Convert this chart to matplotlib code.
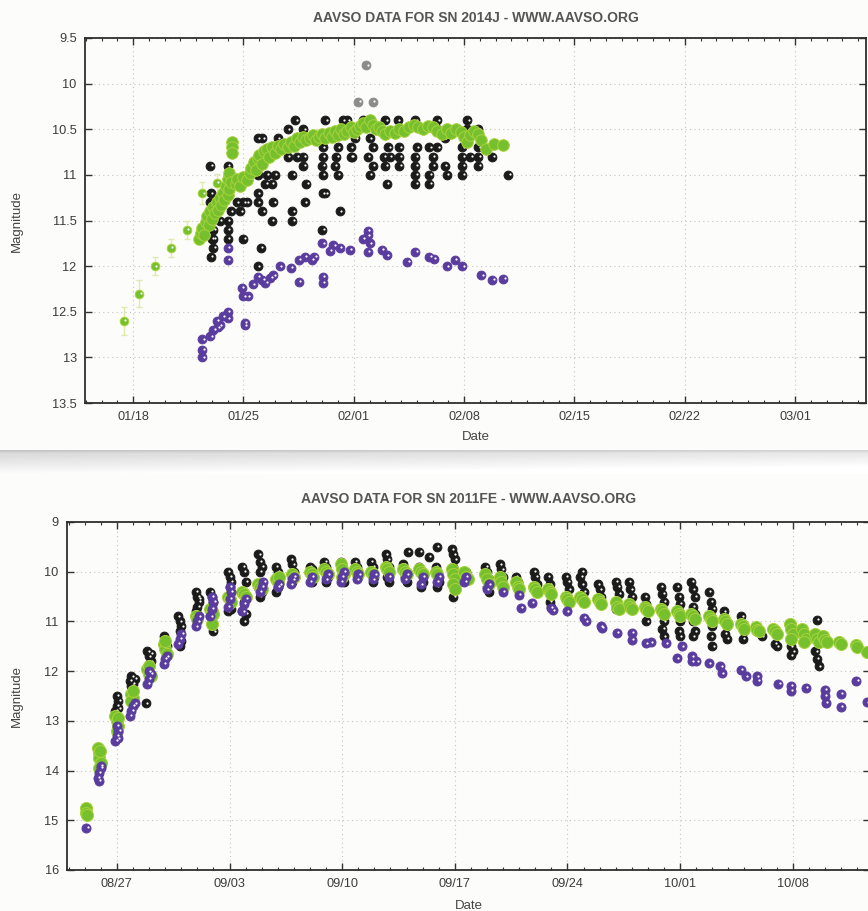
import matplotlib
matplotlib.use("Agg")
import matplotlib.pyplot as plt
import matplotlib.transforms as mtransforms
from matplotlib.ticker import MultipleLocator
import numpy as np

plt.rcParams['font.family'] = ['Liberation Sans', 'DejaVu Sans']

# ---------------- SN 2014J (x = day of January 2014) ----------------
sn14_title = "AAVSO DATA FOR SN 2014J - WWW.AAVSO.ORG"
sn14_xticks = [18, 25, 32, 39, 46, 53, 60]
sn14_xlabels = ["01/18", "01/25", "02/01", "02/08", "02/15", "02/22", "03/01"]
sn14_yticks = [9.5, 10, 10.5, 11, 11.5, 12, 12.5, 13, 13.5]
sn14_ylabels = ["9.5", "10", "10.5", "11", "11.5", "12", "12.5", "13", "13.5"]

# early points with error bars
sn14_green_early = [(17.4, 12.60), (18.4, 12.30), (19.4, 12.00), (20.4, 11.80),
                    (21.4, 11.60), (22.4, 11.20), (23.3, 11.09)]
sn14_green_early_err = [0.15, 0.15, 0.10, 0.10, 0.10, 0.12, 0.10]

sn14_green = [
    (22.2, 11.70), (22.3, 11.64), (22.4, 11.58), (22.5, 11.66), (22.6, 11.52), (22.7, 11.45),
    (22.8, 11.55), (22.9, 11.40), (23.0, 11.48), (23.1, 11.35), (23.2, 11.42), (23.3, 11.30),
    (23.4, 11.38), (23.5, 11.25), (23.6, 11.33), (23.7, 11.20), (23.8, 11.28), (23.9, 11.12),
    (24.0, 11.22), (24.0, 11.05), (24.1, 10.98), (24.1, 11.15), (24.2, 11.08), (24.3, 10.64),
    (24.3, 10.70), (24.3, 10.76), (24.5, 11.10), (24.6, 11.04), (24.8, 11.12), (25.0, 11.02),
    (25.2, 11.06), (25.4, 10.98), (25.5, 10.92), (25.7, 10.86), (25.8, 10.95), (25.9, 10.82),
    (26.0, 10.78), (26.2, 10.88), (26.3, 10.74), (26.5, 10.72), (26.6, 10.80), (26.8, 10.70),
    (27.0, 10.76), (27.2, 10.68), (27.4, 10.72), (27.6, 10.66), (27.8, 10.70), (28.0, 10.64),
    (28.2, 10.68), (28.4, 10.60), (28.6, 10.64), (28.8, 10.58), (29.0, 10.62), (29.2, 10.60),
    (29.4, 10.56), (29.6, 10.62), (29.8, 10.58), (30.0, 10.55), (30.2, 10.60), (30.4, 10.54),
    (30.6, 10.58), (30.8, 10.52), (31.0, 10.56), (31.2, 10.50), (31.4, 10.55), (31.6, 10.52),
    (31.8, 10.48), (32.0, 10.53), (32.2, 10.50), (32.4, 10.46), (32.6, 10.43), (32.8, 10.48),
    (33.0, 10.40), (33.2, 10.45), (33.4, 10.50), (33.6, 10.48), (33.8, 10.52), (34.0, 10.55),
    (34.3, 10.52), (34.6, 10.54), (34.9, 10.50), (35.2, 10.52), (35.5, 10.48), (35.8, 10.45),
    (36.1, 10.48), (36.4, 10.50), (36.7, 10.46), (37.0, 10.48), (37.3, 10.52), (37.6, 10.55),
    (37.9, 10.50), (38.2, 10.54), (38.5, 10.50), (38.8, 10.53), (39.0, 10.58), (39.2, 10.64),
    (39.4, 10.56), (39.6, 10.52), (39.9, 10.55), (40.1, 10.62), (40.4, 10.72), (40.9, 10.66),
    (41.5, 10.67),
]

sn14_black = [
    (22.9, 10.9), (24.0, 10.9), (22.95, 11.2), (22.9, 11.3), (23.0, 11.7), (23.1, 11.8),
    (22.95, 11.9), (23.5, 11.5), (24.0, 11.5), (24.0, 11.6), (24.0, 11.7), (23.1, 11.6),
    (23.1, 11.7), (24.2, 11.4), (24.6, 11.3), (24.8, 11.4), (25.2, 11.3), (25.9, 11.3),
    (26.2, 11.4), (26.9, 11.3), (26.8, 11.5), (25.0, 11.7), (26.1, 11.8), (25.9, 12.0),
    (25.0, 11.3), (25.9, 11.2), (26.4, 11.1), (26.8, 11.1), (25.9, 11.0), (26.5, 11.0),
    (27.0, 11.0), (25.9, 10.6), (26.2, 10.6), (27.2, 10.6), (27.8, 10.5), (28.3, 10.4),
    (28.8, 10.5), (28.1, 11.0), (28.1, 11.4), (28.1, 11.5), (28.8, 10.9), (28.9, 11.3),
    (29.0, 11.1), (30.05, 11.2), (30.0, 10.9), (30.05, 11.0), (30.8, 10.9), (31.0, 11.0),
    (31.1, 11.4), (30.2, 10.4), (31.3, 10.4), (31.6, 10.4), (30.0, 11.6), (31.8, 10.8),
    (28.8, 10.8), (27.8, 10.8), (28.4, 10.8), (30.05, 10.8), (30.9, 10.8), (30.05, 10.7),
    (31.0, 10.7), (31.8, 10.7), (28.8, 10.6), (30.2, 11.2), (34.1, 11.1),
    (32.6, 10.4), (34.0, 10.4), (34.8, 10.4), (35.9, 10.4), (37.3, 10.4), (39.2, 10.4),
    (31.9, 10.8), (33.0, 10.6), (33.2, 10.7), (33.2, 10.9), (32.9, 10.8), (33.0, 11.0),
    (33.9, 10.8), (34.0, 10.9), (34.2, 10.7), (34.9, 10.7), (34.9, 10.8), (34.9, 10.9),
    (35.9, 10.8), (35.9, 10.9), (35.9, 11.0), (35.9, 11.1), (36.0, 10.7), (36.8, 10.7),
    (37.0, 10.8), (37.0, 10.9), (36.8, 11.0), (36.8, 11.1), (37.3, 10.7), (37.8, 10.6),
    (37.9, 11.0), (38.9, 10.7), (38.9, 10.8), (38.9, 10.9), (38.9, 11.0), (39.4, 10.8),
    (39.2, 10.5), (39.9, 10.5), (39.9, 10.7), (39.9, 10.8), (39.9, 10.9), (40.8, 10.8),
    (41.8, 11.0), (37.3, 10.5), (37.8, 10.9), (34.3, 10.8), (32.1, 10.6),
]

sn14_gray = [(32.8, 9.8), (32.3, 10.2), (33.2, 10.2)]

sn14_purple = [
    (22.4, 13.00), (22.4, 12.92), (22.4, 12.80), (22.9, 12.77), (23.1, 12.70), (23.3, 12.60),
    (23.5, 12.65), (23.7, 12.55), (24.0, 12.50), (23.4, 12.67), (24.0, 12.57), (24.0, 11.80),
    (24.0, 11.93), (25.1, 12.65), (25.1, 12.62), (24.9, 12.24), (25.0, 12.33), (25.3, 12.33),
    (25.6, 12.20), (25.9, 12.12), (26.2, 12.15), (26.7, 12.13), (26.9, 12.10), (26.4, 12.18),
    (27.3, 12.00), (28.0, 12.02), (28.5, 12.17), (28.5, 11.93), (28.9, 11.90), (29.35, 11.93),
    (29.5, 11.90), (30.0, 11.75), (30.05, 12.12), (30.05, 12.18), (30.5, 11.83), (30.7, 11.77),
    (31.1, 11.80), (31.76, 11.82), (32.6, 11.70), (32.9, 11.61), (32.9, 11.66), (33.0, 11.75),
    (32.9, 11.84), (33.8, 11.82), (34.1, 11.88), (35.4, 11.95), (35.9, 11.84), (36.8, 11.90),
    (37.1, 11.92), (37.9, 12.00), (38.4, 11.93), (38.9, 12.00), (40.1, 12.10), (40.8, 12.15),
    (41.5, 12.14),
]

# ---------------- SN 2011FE (x = day of August 2011) ----------------
fe_title = "AAVSO DATA FOR SN 2011FE - WWW.AAVSO.ORG"
fe_xticks = [27, 34, 41, 48, 55, 62, 69]
fe_xlabels = ["08/27", "09/03", "09/10", "09/17", "09/24", "10/01", "10/08"]
fe_yticks = [9, 10, 11, 12, 13, 14, 15, 16]
fe_ylabels = ["9", "10", "11", "12", "13", "14", "15", "16"]

fe_black = [
    (26.9, 12.8), (27.0, 12.7), (27.1, 12.6), (27.0, 12.5), (27.1, 12.75), (28.8, 12.65),
    (27.8, 12.2), (27.9, 12.1), (28.0, 12.25), (27.9, 12.3), (28.1, 12.15),
    (28.9, 11.6), (29.0, 11.7), (29.1, 11.8), (29.0, 11.85), (29.1, 11.65),
    (29.9, 11.3), (30.0, 11.4), (30.1, 11.5), (30.0, 11.35),
    (30.8, 10.9), (30.9, 11.0), (31.0, 11.1), (30.9, 11.2), (31.0, 11.4), (30.9, 11.5),
    (31.9, 10.4), (32.0, 10.5), (32.1, 10.6), (32.0, 10.7), (31.9, 10.8), (32.1, 10.55),
    (32.8, 10.4), (32.9, 10.5), (33.0, 10.6), (32.9, 10.7), (32.8, 10.9), (32.9, 11.0), (33.0, 11.2),
    (33.9, 10.0), (34.0, 10.1), (34.1, 10.2), (34.0, 10.3), (33.9, 10.8), (34.1, 10.75),
    (34.8, 9.9), (34.9, 10.0), (35.0, 10.2), (34.9, 10.6), (34.8, 10.8), (35.0, 10.85), (34.9, 11.0),
    (35.8, 9.65), (35.9, 9.8), (36.0, 9.9), (35.9, 10.0), (35.8, 10.3), (36.0, 10.4), (35.9, 10.5),
    (36.9, 9.9), (37.0, 10.0), (37.1, 10.1), (37.0, 10.3), (36.9, 10.4),
    (37.8, 9.75), (37.9, 9.85), (38.0, 10.0), (37.9, 10.2),
    (39.0, 9.9), (39.1, 9.95), (39.2, 10.1), (39.1, 10.2),
    (39.9, 9.8), (40.0, 9.9), (40.1, 10.1), (40.0, 10.2),
    (40.9, 9.8), (41.0, 9.9), (41.1, 10.2), (41.0, 10.05),
    (41.8, 9.8), (41.9, 9.9), (42.0, 10.1),
    (42.8, 9.8), (42.9, 9.9), (43.0, 10.1), (42.9, 10.2),
    (43.7, 9.65), (43.8, 9.75), (43.9, 9.9), (43.8, 10.1), (43.9, 10.2),
    (44.8, 9.85), (44.9, 10.0), (45.0, 10.2), (44.9, 10.1),
    (45.1, 9.6), (45.8, 9.6), (46.4, 9.7), (46.9, 9.5),
    (45.8, 9.9), (45.9, 10.0), (46.0, 10.2), (45.9, 10.3),
    (46.8, 9.9), (46.9, 10.0), (47.0, 10.2), (46.9, 10.3),
    (47.8, 9.55), (47.9, 9.65), (48.0, 9.75), (47.9, 9.9), (47.9, 10.5),
    (48.7, 10.0), (48.8, 10.1),
    (49.9, 9.9), (50.0, 10.0), (50.1, 10.15), (50.0, 10.3), (50.1, 10.4),
    (50.8, 9.85), (50.9, 9.95), (51.0, 10.1),
    (51.8, 10.1), (51.9, 10.2), (52.0, 10.35),
    (52.9, 10.0), (53.0, 10.1), (53.1, 10.25),
    (53.8, 10.1), (53.9, 10.25), (54.0, 10.4), (53.9, 10.6), (54.0, 10.7),
    (54.9, 10.1), (55.0, 10.2), (55.1, 10.35), (55.0, 10.5), (55.9, 10.0),
    (55.8, 10.1), (55.9, 10.25), (56.0, 10.4), (55.9, 10.5),
    (56.9, 10.25), (57.0, 10.35), (57.1, 10.5),
    (58.0, 10.2), (58.1, 10.3), (58.2, 10.45), (58.1, 10.6), (58.0, 10.75),
    (58.8, 10.2), (58.9, 10.35), (59.0, 10.5), (58.9, 10.65),
    (59.8, 10.5), (59.9, 10.65), (60.0, 10.8), (59.9, 11.0),
    (60.8, 10.3), (60.9, 10.45), (61.0, 10.6), (60.9, 10.75), (61.0, 11.0), (60.9, 11.15), (61.0, 11.3),
    (61.8, 10.3), (61.9, 10.5), (62.0, 10.65), (61.9, 10.8), (62.0, 11.0), (61.9, 11.2), (62.0, 11.3),
    (62.7, 10.2), (62.8, 10.35), (62.9, 10.5), (62.8, 10.7), (62.9, 10.85), (62.8, 11.0),
    (62.9, 11.2), (62.8, 11.3),
    (63.8, 10.4), (63.9, 10.6), (64.0, 10.75), (63.9, 10.9), (64.0, 11.1), (63.9, 11.3), (64.0, 11.5),
    (64.7, 10.8), (64.8, 10.95), (64.9, 11.1), (64.8, 11.25), (64.9, 11.35),
    (65.8, 10.9), (65.9, 11.05), (66.0, 11.2), (65.9, 11.35),
    (67.1, 11.3), (67.9, 11.45), (68.0, 11.5),
    (68.9, 11.5), (69.0, 11.6), (68.9, 11.68),
    (70.5, 10.97), (70.4, 11.6), (70.5, 11.75), (70.6, 11.9),
]

fe_green = [
    (25.1, 14.75), (25.1, 14.85), (25.15, 14.9),
    (25.8, 13.55), (25.9, 13.65), (25.9, 13.75), (26.0, 13.85), (25.9, 13.95), (25.95, 13.6),
    (26.9, 12.9), (27.0, 13.0), (27.1, 13.1), (27.0, 13.2), (27.05, 12.95),
    (27.9, 12.45), (28.0, 12.55), (27.9, 12.6), (28.0, 12.4),
    (28.9, 11.95), (29.0, 12.05), (29.1, 12.1), (29.0, 11.9),
    (29.9, 11.45), (30.0, 11.55), (30.1, 11.65), (30.0, 11.4),
    (31.9, 10.9), (32.0, 10.95),
    (32.8, 10.75), (32.9, 10.8), (33.0, 10.85), (32.9, 11.05),
    (33.9, 10.5), (34.0, 10.55), (34.1, 10.6),
    (34.8, 10.4), (34.9, 10.45), (35.0, 10.5),
    (35.8, 10.25), (35.9, 10.3), (36.0, 10.35),
    (36.9, 10.15), (37.0, 10.2), (37.1, 10.1),
    (37.9, 10.05), (38.0, 10.1),
    (39.0, 10.0), (39.1, 10.05), (39.2, 10.1),
    (39.9, 9.95), (40.0, 10.0), (40.1, 10.05),
    (40.9, 9.85), (41.0, 9.95), (41.1, 10.05), (41.0, 10.1),
    (41.8, 9.95), (41.9, 10.0), (42.0, 10.05),
    (42.8, 10.0), (42.9, 10.05),
    (43.7, 9.9), (43.8, 9.95), (43.9, 10.0),
    (44.8, 9.95), (44.9, 10.0), (45.0, 10.05),
    (45.8, 9.95), (45.9, 10.0), (46.0, 10.05),
    (46.8, 10.0), (46.9, 10.05),
    (47.8, 9.95), (47.9, 10.05), (48.0, 10.15), (47.9, 10.25), (48.0, 10.35),
    (48.6, 10.0), (48.7, 10.1), (48.8, 10.15),
    (49.9, 10.05), (50.0, 10.15), (50.1, 10.25),
    (50.8, 10.1), (50.9, 10.2), (51.0, 10.3),
    (51.8, 10.2), (51.9, 10.3), (52.0, 10.35),
    (52.9, 10.3), (53.0, 10.35), (53.1, 10.4),
    (53.8, 10.35), (53.9, 10.4), (54.0, 10.45),
    (54.9, 10.5), (55.0, 10.55), (55.1, 10.6),
    (55.8, 10.5), (55.9, 10.55), (56.0, 10.6),
    (56.9, 10.55), (57.0, 10.6), (57.1, 10.65),
    (58.0, 10.6), (58.1, 10.7), (58.2, 10.75),
    (58.8, 10.65), (58.9, 10.7), (59.0, 10.75),
    (59.8, 10.7), (59.9, 10.75), (60.0, 10.8),
    (60.8, 10.75), (60.9, 10.8), (61.0, 10.85),
    (61.8, 10.8), (61.9, 10.85), (62.0, 10.9),
    (62.7, 10.85), (62.8, 10.9), (62.9, 10.95),
    (63.8, 10.9), (63.9, 10.95), (64.0, 11.0),
    (64.7, 10.95), (64.8, 11.0), (64.9, 11.05),
    (65.8, 11.05), (65.9, 11.1), (66.0, 11.15),
    (66.7, 11.12), (66.8, 11.17), (66.9, 11.2),
    (67.8, 11.15), (67.9, 11.2), (68.0, 11.25),
    (68.8, 11.05), (68.9, 11.15), (69.0, 11.25), (68.9, 11.35),
    (69.6, 11.15), (69.7, 11.25), (69.8, 11.35), (69.7, 11.42),
    (70.4, 11.25), (70.5, 11.35), (70.6, 11.42),
    (70.9, 11.3), (71.0, 11.38), (71.1, 11.42),
    (71.9, 11.42), (72.0, 11.45),
    (72.9, 11.48), (73.0, 11.52), (73.6, 11.62),
]

fe_purple = [
    (25.1, 15.15),
    (25.8, 14.15), (25.9, 14.05), (26.0, 13.95), (25.9, 14.2), (26.0, 13.9),
    (26.9, 13.4), (27.0, 13.3), (27.1, 13.2), (27.0, 13.1), (27.05, 13.35),
    (27.8, 12.9), (27.9, 12.8), (28.0, 12.7), (28.1, 12.65),
    (28.9, 12.25), (29.0, 12.15), (29.1, 12.05), (29.0, 12.0),
    (29.9, 11.85), (30.0, 11.75), (30.1, 11.7),
    (30.8, 11.45), (30.9, 11.35), (31.0, 11.25),
    (31.9, 11.1), (32.0, 11.0), (32.1, 10.9),
    (32.8, 10.9), (32.9, 10.75), (33.0, 10.6), (32.9, 10.5),
    (33.9, 10.7), (34.0, 10.55), (34.1, 10.4), (34.0, 10.3),
    (34.8, 10.8), (34.9, 10.65), (35.0, 10.55),
    (35.9, 10.4), (36.0, 10.3), (36.1, 10.2),
    (37.0, 10.3), (37.1, 10.25),
    (37.8, 10.25), (37.9, 10.15), (38.0, 10.1),
    (39.0, 10.2), (39.1, 10.1),
    (40.0, 10.15), (40.1, 10.05),
    (40.9, 10.2), (41.0, 10.1), (41.1, 10.0),
    (41.9, 10.15), (42.0, 10.05),
    (42.9, 10.15), (43.0, 10.05),
    (43.9, 10.1),
    (44.9, 10.15), (45.0, 10.05),
    (45.9, 10.25), (46.0, 10.1),
    (46.9, 10.2), (47.0, 10.1),
    (48.6, 10.2), (48.7, 10.1),
    (50.0, 10.35), (50.1, 10.25),
    (51.0, 10.4),
    (51.97, 10.47), (52.09, 10.73), (52.78, 10.63), (53.96, 10.73), (54.1, 10.78),
    (54.95, 10.8), (56.0, 10.93), (56.13, 11.0), (57.06, 11.1), (57.15, 11.13),
    (58.06, 11.23), (59.0, 11.23), (59.0, 11.37), (59.86, 11.44), (60.17, 11.42),
    (61.1, 11.44), (61.78, 11.74), (62.1, 11.5), (62.71, 11.7), (62.71, 11.8),
    (63.0, 11.8), (63.77, 11.84), (64.5, 11.9), (64.6, 12.04), (65.76, 11.97),
    (66.07, 12.1), (66.75, 12.1), (66.8, 12.2), (68.1, 12.25), (68.9, 12.3),
    (68.9, 12.4), (69.8, 12.34), (71.0, 12.38), (71.0, 12.5), (71.05, 12.64),
    (72.0, 12.45), (72.0, 12.72), (72.96, 12.2), (73.6, 12.63),
]

BLACK = '#1b1b1b'
PURPLE = '#5a3c9e'
GREEN = '#76c02e'
GREEN_EDGE = '#a9d23a'
GRAY = '#8c8c8c'
PAPER = '#fcfcfa'


def draw_points(ax, pts, face, edge, size, z, shine_alpha=1.0):
    x = [p[0] for p in pts]
    y = [p[1] for p in pts]
    ax.scatter(x, y, s=size, c=face, edgecolors=edge, linewidths=0.7, zorder=z)
    # small white highlight like the AAVSO "ball" markers
    shine = mtransforms.offset_copy(ax.transData, fig=ax.figure, x=1.3, y=0.6, units='dots')
    ax.scatter(x, y, s=2.5, c='white', alpha=shine_alpha, linewidths=0,
               transform=shine, zorder=z + 0.1)


def style_axes(ax, title, xticks, xlabels, yticks, ylabels, xlim, ylim, title_pad,
               xlab_y, ylab_x):
    ax.set_facecolor(PAPER)
    ax.set_xlim(*xlim)
    ax.set_ylim(*ylim)
    ax.set_xticks(xticks)
    ax.set_xticklabels(xlabels)
    ax.set_yticks(yticks)
    ax.set_yticklabels(ylabels)
    ax.xaxis.set_minor_locator(MultipleLocator(1))
    ax.tick_params(which='both', direction='in', top=True, right=True,
                   color='#333333', labelsize=9.2, labelcolor='#3c3c3c')
    ax.tick_params(which='major', length=5, width=1.0, pad=6)
    ax.tick_params(which='minor', length=2.5, width=0.8)
    ax.grid(True, which='major', color='#c4c4c4', linestyle=(0, (1, 3)), linewidth=0.8)
    for s in ax.spines.values():
        s.set_color('#2e2e2e')
        s.set_linewidth(1.3)
    ax.set_title(title, fontsize=10, fontweight='bold', color='#555555', pad=title_pad)
    ax.set_xlabel('Date', fontsize=9.5, color='#444444')
    ax.set_ylabel('Magnitude', fontsize=9.5, color='#444444')
    ax.xaxis.set_label_coords(0.5, xlab_y)
    ax.yaxis.set_label_coords(ylab_x, 0.5)
    ax.set_axisbelow(True)


fig = plt.figure(figsize=(8.68, 9.11), dpi=100)
fig.patch.set_facecolor(PAPER)

W, H = 868.0, 911.0
ax1 = fig.add_axes([85 / W, 1 - 403 / H, 781 / W, 365 / H])
ax2 = fig.add_axes([67 / W, 1 - 870 / H, 803 / W, 348 / H])

# top chart
style_axes(ax1, sn14_title, sn14_xticks, sn14_xlabels, sn14_yticks, sn14_ylabels,
           (14.95, 64.5), (13.5, 9.5), 11.5, -0.078, -0.079)
ex = [p[0] for p in sn14_green_early]
ey = [p[1] for p in sn14_green_early]
ax1.errorbar(ex, ey, yerr=sn14_green_early_err, fmt='none', ecolor='#dfe9b0',
             elinewidth=1.0, capsize=2, zorder=2)
draw_points(ax1, sn14_black, BLACK, BLACK, 40, 3)
draw_points(ax1, sn14_gray, GRAY, GRAY, 40, 3)
draw_points(ax1, sn14_green_early, GREEN, GREEN_EDGE, 38, 4)
draw_points(ax1, sn14_green, GREEN, GREEN_EDGE, 70, 4, shine_alpha=0.0)
draw_points(ax1, sn14_purple, PURPLE, PURPLE, 40, 5)

# bottom chart
style_axes(ax2, fe_title, fe_xticks, fe_xlabels, fe_yticks, fe_ylabels,
           (23.9, 73.8), (16, 9), 13.5, -0.086, -0.055)
draw_points(ax2, fe_black, BLACK, BLACK, 40, 3)
draw_points(ax2, fe_green, GREEN, GREEN_EDGE, 75, 4, shine_alpha=0.0)
draw_points(ax2, fe_purple, PURPLE, PURPLE, 42, 5)

# scanner shadow band between the two pages
band = fig.add_axes([0, 1 - 474 / H, 1, 24 / H])
grad = np.concatenate([np.linspace(0.74, 0.86, 5), np.linspace(0.86, 0.985, 19)])[:, None] \
    * np.ones((1, 200))
grad = grad + np.linspace(0.0, 0.06, 200)[None, :]
band.imshow(np.clip(grad, 0, 1), cmap='gray', vmin=0, vmax=1, aspect='auto')
band.axis('off')

fig.savefig('out.png', dpi=100, facecolor=PAPER)
